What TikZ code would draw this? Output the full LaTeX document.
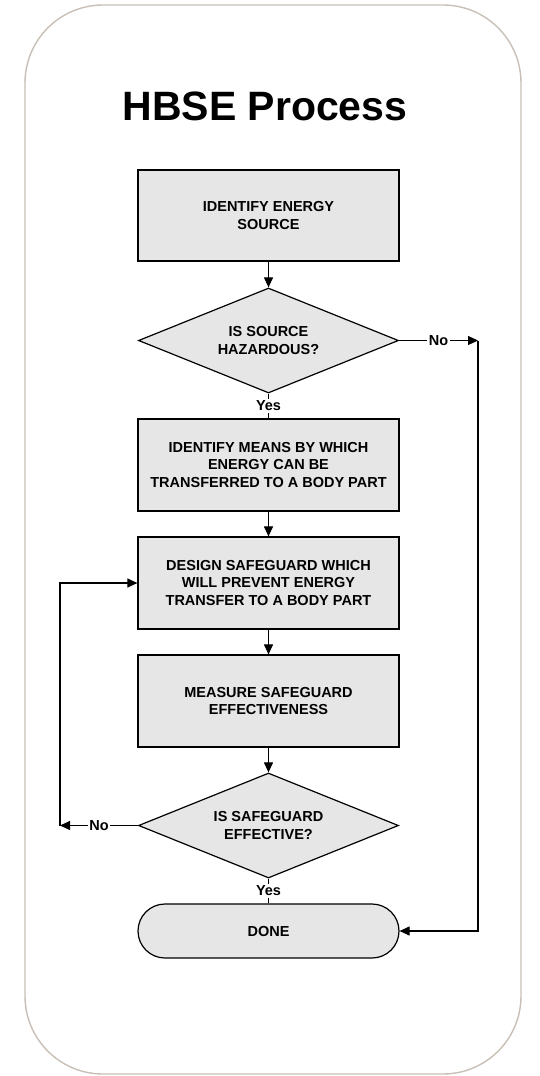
\documentclass[tikz,border=0pt]{standalone}
\usepackage{fontspec}
\setmainfont{Liberation Sans}
\usetikzlibrary{shapes.geometric,arrows.meta}
\definecolor{boxfill}{RGB}{230,230,230}
\definecolor{framecol}{RGB}{200,191,182}
\begin{document}
\begin{tikzpicture}[x=1pt,y=-1pt,
  every node/.style={font=\fontsize{14.5}{17.2}\selectfont\bfseries, align=center},
  stepbox/.style={draw=black, fill=boxfill, line width=1.2pt, rectangle,
    minimum width=261pt, minimum height=91pt, inner sep=0pt},
  decision/.style={draw=black, fill=boxfill, line width=1.2pt, diamond, aspect=2.48,
    minimum width=260pt, minimum height=105pt, inner sep=0pt},
  terminal/.style={draw=black, fill=boxfill, line width=1.2pt, rectangle,
    rounded corners=27pt, minimum width=261pt, minimum height=54pt, inner sep=0pt},
  flow/.style={line width=1.1pt, -{Triangle[length=10pt,width=9pt]}},
  plain/.style={line width=1.1pt},
  tag/.style={fill=white, inner sep=1.5pt}]
\useasboundingbox (0,0) rectangle (539,1076);
% outer panel
\draw[framecol, line width=1.4pt, rounded corners=78pt] (25,5) rectangle (521,1074);
% heading
\node[anchor=base, font=\fontsize{41}{45}\selectfont\bfseries] (title) at (265,120) {HBSE Process};
% process steps
\node[stepbox] (b1) at (268.5,215.5) {IDENTIFY ENERGY\\SOURCE};
\node[decision] (d1) at (268.5,340.5) {IS SOURCE\\HAZARDOUS?};
\node[stepbox, minimum height=92pt] (b2) at (268.5,465) {IDENTIFY MEANS BY WHICH\\ENERGY CAN BE\\TRANSFERRED TO A BODY PART};
\node[stepbox, minimum height=92pt] (b3) at (268.5,583) {DESIGN SAFEGUARD WHICH\\WILL PREVENT ENERGY\\TRANSFER TO A BODY PART};
\node[stepbox, minimum height=92pt] (b4) at (268.5,701) {MEASURE SAFEGUARD\\EFFECTIVENESS};
\node[decision] (d2) at (268.5,825.5) {IS SAFEGUARD\\EFFECTIVE?};
\node[terminal] (done) at (268.5,931) {DONE};
% bend points of the return paths
\coordinate (rc) at (478,340.5);
\coordinate (lc) at (60,825.5);
% connectors
\draw[flow] (b1) -- (d1);
\draw[plain] (d1.south) -- node[tag] {Yes} (b2.north);
\draw[flow] (b2) -- (b3);
\draw[flow] (b3) -- (b4);
\draw[flow] (b4) -- (d2);
\draw[plain] (d2.south) -- node[tag] {Yes} (done.north);
\draw[flow] (d1.east) -- node[tag] {No} (rc);
\draw[flow] (rc) |- (done.east);
\draw[flow] (d2.west) -- node[tag] {No} (lc);
\draw[flow] (lc) |- (b3.west);
\end{tikzpicture}
\end{document}
